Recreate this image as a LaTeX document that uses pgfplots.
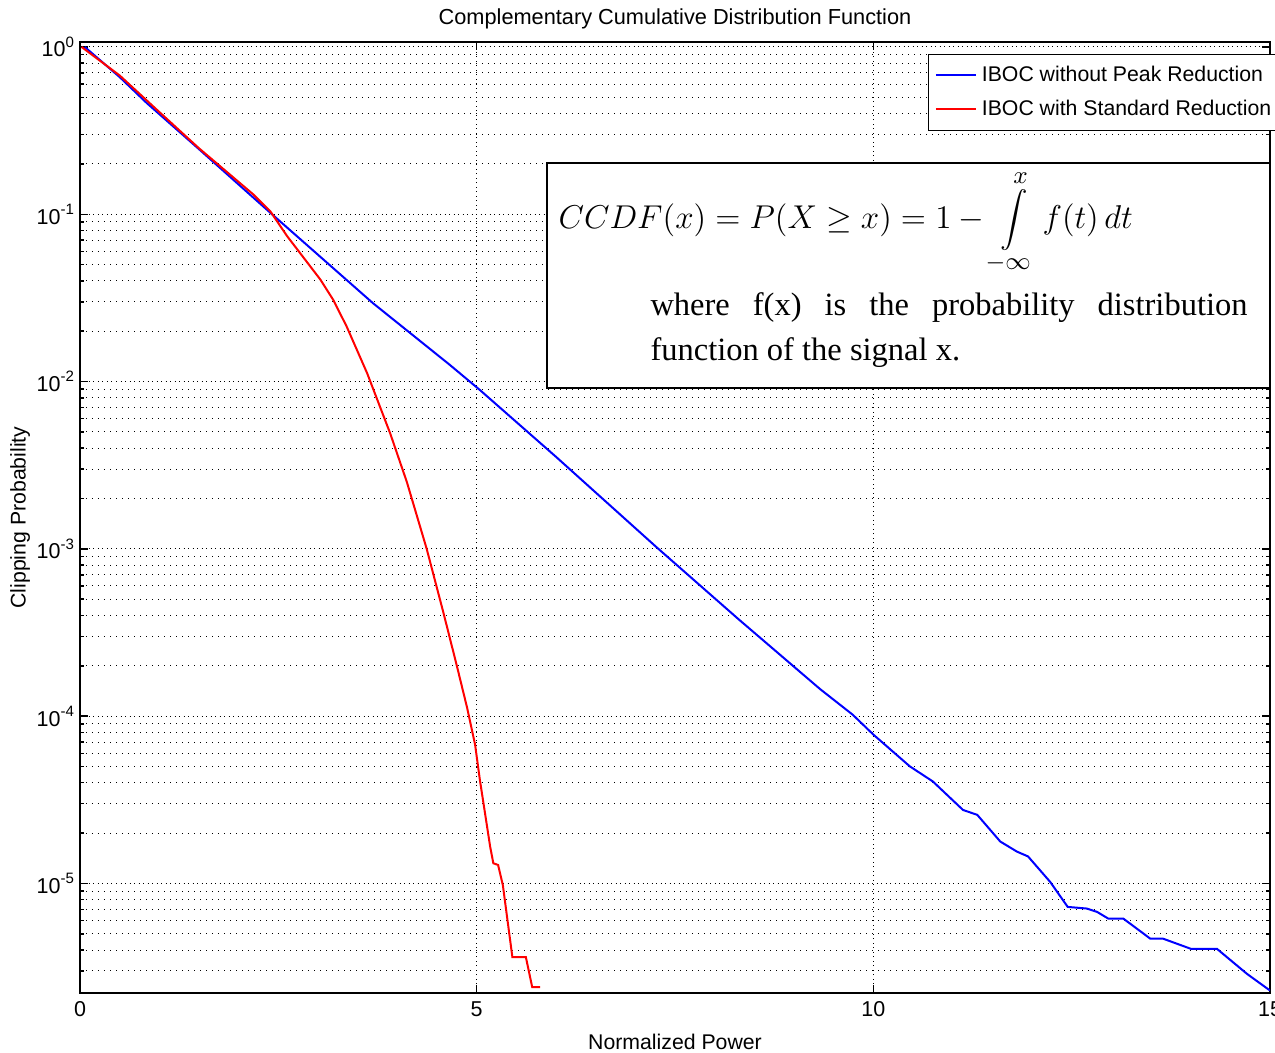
\documentclass[border=0pt]{standalone}
\usepackage{fontspec}
\setmainfont{Liberation Sans}
\newfontfamily\tnr{Liberation Serif}
\usepackage{pgfplots}
\pgfplotsset{compat=1.18}

\begin{document}
\begin{tikzpicture}
\begin{axis}[
    name=ax,
    width=476pt, height=380.4pt, scale only axis,
    xmin=0, xmax=15,
    ymode=log,
    ymin=2.213e-6, ymax=1.071,
    xtick={0,5,10,15},
    xticklabels={0,5,10,15},
    ytick={1,1e-1,1e-2,1e-3,1e-4,1e-5},
    yticklabels={10\textsuperscript{0},10\textsuperscript{-1},10\textsuperscript{-2},10\textsuperscript{-3},10\textsuperscript{-4},10\textsuperscript{-5}},
    minor ytick={2e-6,3e-6,4e-6,5e-6,6e-6,7e-6,8e-6,9e-6,
                 2e-5,3e-5,4e-5,5e-5,6e-5,7e-5,8e-5,9e-5,
                 2e-4,3e-4,4e-4,5e-4,6e-4,7e-4,8e-4,9e-4,
                 2e-3,3e-3,4e-3,5e-3,6e-3,7e-3,8e-3,9e-3,
                 2e-2,3e-2,4e-2,5e-2,6e-2,7e-2,8e-2,9e-2,
                 0.2,0.3,0.4,0.5,0.6,0.7,0.8,0.9},
    tick align=inside,
    major tick length=3.2pt, minor tick length=1.6pt,
    tick style={black, line width=0.6pt},
    axis line style={line width=0.8pt},
    xmajorgrids=true, ymajorgrids=true, yminorgrids=true,
    major grid style={black, line width=0.4pt, dash pattern=on 0.4pt off 1.4pt},
    minor grid style={black, line width=0.4pt, dash pattern=on 0.4pt off 2pt},
    tick label style={font=\fontsize{8.6}{10}\selectfont},
    yticklabel style={xshift=1.6pt},
    label style={font=\fontsize{8.5}{10}\selectfont},
    xlabel={Normalized Power},
    ylabel={Clipping Probability},
    ylabel style={at={(axis description cs:-0.0504,0.5)}, anchor=center},
    legend style={at={(rel axis cs:0.7126,0.9875)}, anchor=north west,
      draw=black, line width=0.5pt, fill=white,
      font=\fontsize{8.5}{10}\selectfont, inner sep=2.5pt, row sep=2pt},
    legend cell align=left,
    legend image code/.code={\draw[#1,line width=0.8pt] (0pt,0pt) -- (16pt,0pt);},
  ]

  % IBOC without peak reduction
  \addplot[color=blue, line width=0.8pt] coordinates {
    (0.06,1.0) (0.5,0.661) (0.84,0.463) (1.5,0.245) (2.4,0.102)
    (3.69,0.0295) (4.66,0.0126) (5.04,0.00891) (6.0,0.00355)
    (7.27,0.00102) (8.3,3.80e-4) (9.33,1.45e-4) (9.74,1.02e-4)
    (10.0,7.76e-5) (10.46,5.01e-5) (10.75,4.07e-5) (11.13,2.75e-5)
    (11.31,2.57e-5) (11.6,1.78e-5) (11.81,1.55e-5) (11.95,1.45e-5)
    (12.23,1.02e-5) (12.45,7.24e-6) (12.69,7.08e-6) (12.82,6.76e-6)
    (12.96,6.17e-6) (13.15,6.17e-6) (13.49,4.68e-6) (13.65,4.68e-6)
    (14.0,4.07e-6) (14.33,4.07e-6) (14.71,2.88e-6) (15.0,2.29e-6)
  };
  \addlegendentry{IBOC without Peak Reduction}

  % IBOC with standard reduction
  \addplot[color=red, line width=0.8pt] coordinates {
    (0.02,1.0) (0.5,0.676) (0.97,0.421) (1.5,0.248) (2.18,0.132)
    (2.4,0.104) (2.61,0.0741) (3.03,0.0407) (3.19,0.0309) (3.36,0.0214)
    (3.62,0.0112) (3.91,0.0049) (4.12,0.00251) (4.37,0.001)
    (4.58,4.17e-4) (4.75,2.0e-4) (4.88,1.12e-4) (4.98,6.76e-5) (5.04,4.17e-5)
    (5.17,1.66e-5) (5.21,1.32e-5) (5.27,1.29e-5) (5.33,9.77e-6)
    (5.45,3.63e-6) (5.62,3.63e-6) (5.70,2.40e-6) (5.80,2.40e-6)
  };
  \addlegendentry{IBOC with Standard Reduction}

  \draw[fill=white, line width=0.8pt] (rel axis cs:0.3924,0.6362) rectangle (rel axis cs:1,0.8728);
  \node[anchor=base west, inner sep=0pt, scale=1.1, font=\fontsize{12.5}{15}\selectfont] at (rel axis cs:0.4017,0.8044)
    {$\displaystyle CCDF(x)=P(X\ge x)=1-\int\limits_{-\infty}^{x} f(t)\,dt$};
  \node[anchor=north west, text width=238.8pt, align=justify, inner sep=0pt,
        font=\tnr\fontsize{13}{18}\selectfont] at (rel axis cs:0.479,0.737)
    {where f(x) is the probability distribution \mbox{function} of the signal x.};
\end{axis}
\node[anchor=base, font=\fontsize{8.7}{10}\selectfont] at ([yshift=6.8pt]ax.north)
  {Complementary Cumulative Distribution Function};
\pgfresetboundingbox
\path[use as bounding box] ([xshift=-32pt,yshift=-23.6pt]ax.south west) rectangle ([xshift=2pt,yshift=16.8pt]ax.north east);
\end{tikzpicture}
\end{document}
